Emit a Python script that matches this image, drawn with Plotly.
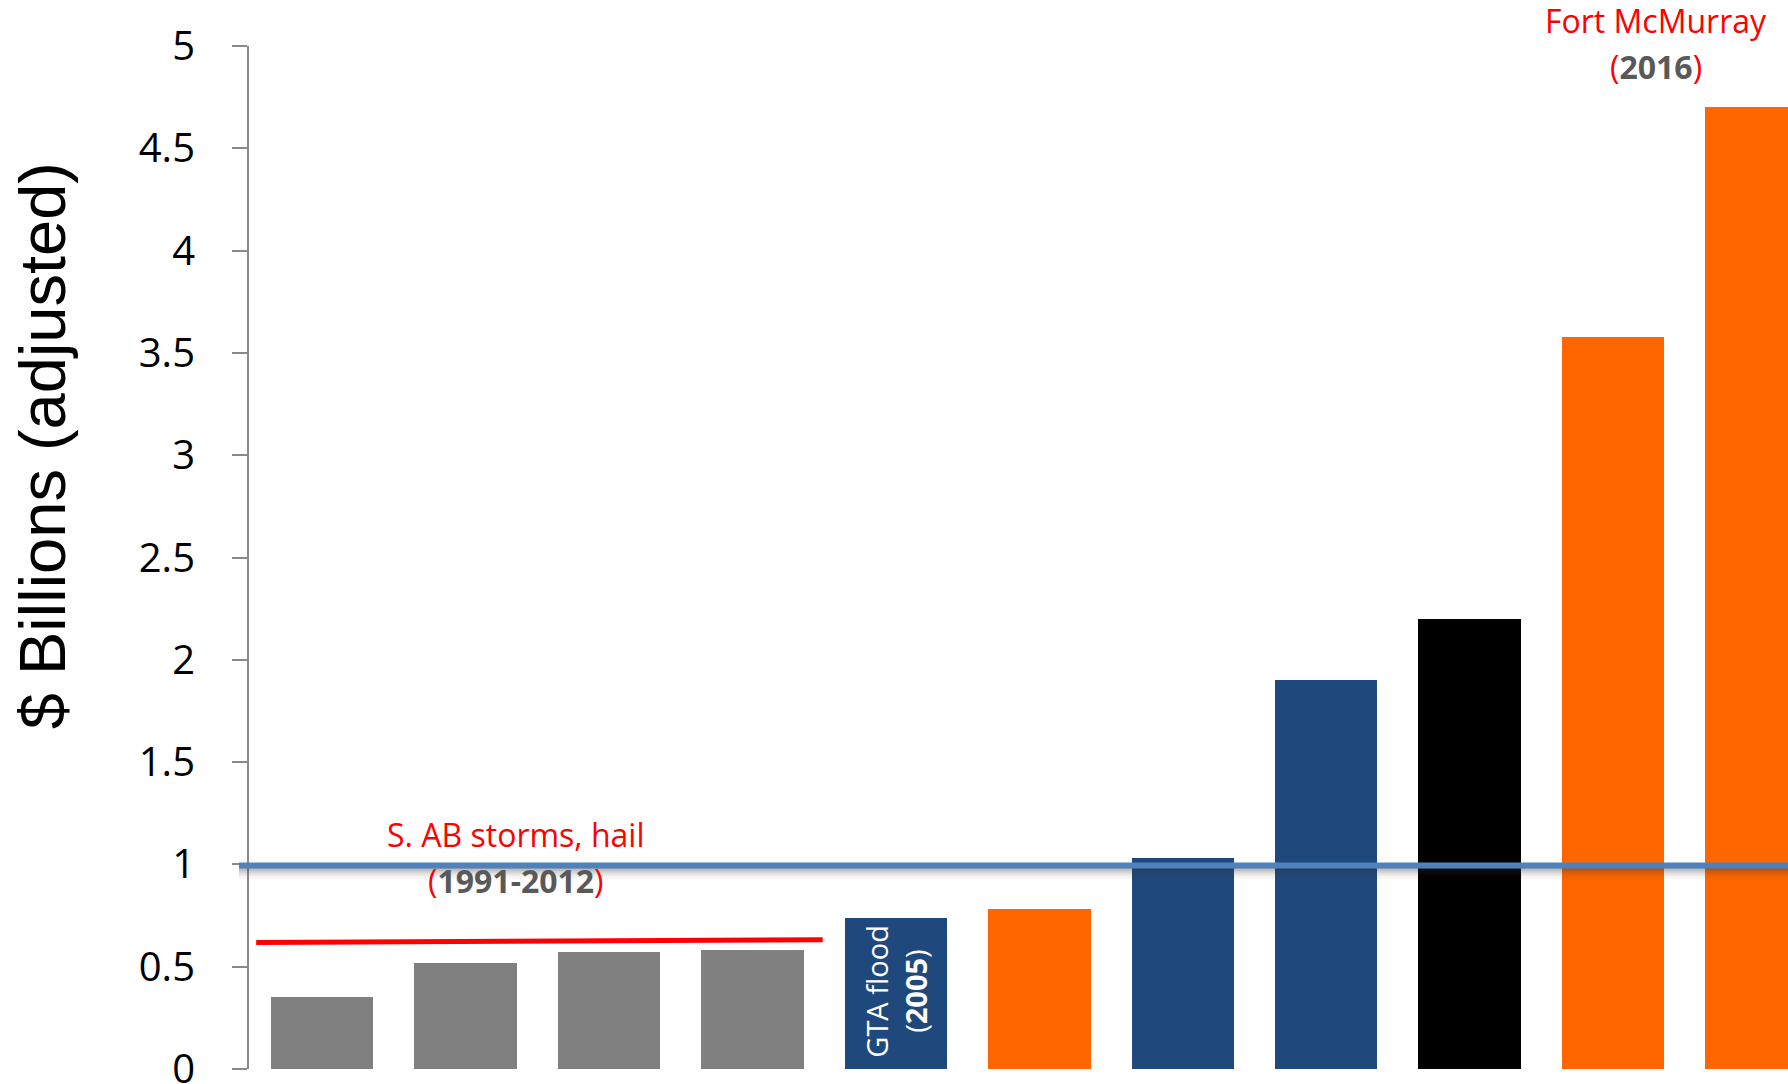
import plotly.graph_objects as go

# Insured catastrophe losses, $ billions (inflation adjusted), in chart order
positions = list(range(11))
losses = [0.35, 0.52, 0.57, 0.58, 0.74, 0.78, 1.03, 1.90, 2.20, 3.58, 4.70]
bar_colors = ["#808080", "#808080", "#808080", "#808080",
              "#1F497D", "#FF6600", "#1F497D", "#1F497D",
              "#000000", "#FF6600", "#FF6600"]

# Southern Alberta storms / hail trend segment (1991-2012)
hail_x = [-0.46, 3.49]
hail_y = [0.618, 0.632]

# $1 billion reference level
threshold = 1.0

y_tick_vals = [0, 0.5, 1, 1.5, 2, 2.5, 3, 3.5, 4, 4.5, 5]
y_tick_text = ["0", "0.5", "1", "1.5", "2", "2.5", "3", "3.5", "4", "4.5", "5"]

LABEL_FONT = "Open Sans, Noto Sans, sans-serif"
RED = "#FF0000"
GREY_TXT = "#595959"
PX = 1.0 / 204.6  # one pixel in y data units

fig = go.Figure()

fig.add_trace(go.Bar(
    x=positions, y=losses, width=0.714,
    marker=dict(color=bar_colors, line=dict(width=0)),
    hoverinfo="y", showlegend=False,
))

fig.add_trace(go.Scatter(
    x=hail_x, y=hail_y, mode="lines",
    line=dict(color=RED, width=5),
    hoverinfo="skip", showlegend=False,
))

shapes = []
# soft drop shadow under the reference line
for off, alpha in [(4, 0.40), (6, 0.30), (8, 0.20), (10, 0.12), (12, 0.06), (14, 0.03)]:
    shapes.append(dict(
        type="line", xref="paper", yref="y", layer="above",
        x0=-0.0065, x1=1, y0=threshold - off * PX, y1=threshold - off * PX,
        line=dict(color=f"rgba(50,50,50,{alpha})", width=2),
    ))
shapes.append(dict(
    type="line", xref="paper", yref="y", layer="above",
    x0=-0.0065, x1=1, y0=threshold - 1 * PX, y1=threshold - 1 * PX,
    line=dict(color="#4F81BD", width=6),
))

annotations = [
    # y-axis title
    dict(text="$ Billions (adjusted)", xref="paper", yref="paper",
         x=-0.1337, y=0.609, xanchor="center", yanchor="middle",
         textangle=-90, showarrow=False,
         font=dict(family="Liberation Sans, Arial, sans-serif", size=65, color="#000000")),
    # hail label
    dict(text="S. AB storms, hail", xref="x", yref="y",
         x=1.349, y=1.148, xanchor="center", yanchor="middle", showarrow=False,
         font=dict(family=LABEL_FONT, size=32, color=RED)),
    dict(text=f"<span style='color:{RED}'>(</span><b>1991-2012</b><span style='color:{RED}'>)</span>",
         xref="x", yref="y", x=1.349, y=0.923, xanchor="center", yanchor="middle",
         showarrow=False, font=dict(family=LABEL_FONT, size=32, color=GREY_TXT)),
    # Fort McMurray label
    dict(text="Fort McMurray", xref="x", yref="paper",
         x=9.298, y=1.0246, xanchor="center", yanchor="middle", showarrow=False,
         font=dict(family=LABEL_FONT, size=32, color=RED)),
    dict(text=f"<span style='color:{RED}'>(</span><b>2016</b><span style='color:{RED}'>)</span>",
         xref="x", yref="paper", x=9.298, y=0.980, xanchor="center", yanchor="middle",
         showarrow=False, font=dict(family=LABEL_FONT, size=32, color=GREY_TXT)),
    # GTA flood label inside its bar
    dict(text="GTA flood", xref="x", yref="y", x=3.859, y=0.381,
         xanchor="center", yanchor="middle", textangle=-90, showarrow=False,
         font=dict(family=LABEL_FONT, size=29, color="#FFFFFF")),
    dict(text="(<b>2005</b>)", xref="x", yref="y", x=4.132, y=0.381,
         xanchor="center", yanchor="middle", textangle=-90, showarrow=False,
         font=dict(family=LABEL_FONT, size=29, color="#FFFFFF")),
]

fig.update_layout(
    width=1788, height=1084,
    margin=dict(l=249, r=0, t=46, b=15, pad=0, autoexpand=False),
    paper_bgcolor="#FFFFFF", plot_bgcolor="#FFFFFF",
    shapes=shapes, annotations=annotations,
    bargap=0,
    xaxis=dict(range=[-0.51, 10.22], showticklabels=False, showline=False,
               showgrid=False, zeroline=False, ticks="", automargin=False),
    yaxis=dict(range=[0, 5], tickvals=y_tick_vals, ticktext=y_tick_text,
               showline=True, linecolor="#898989", linewidth=2,
               ticks="outside", ticklen=15, tickwidth=2, tickcolor="#898989",
               ticklabelstandoff=29, ticklabeloverflow="allow", automargin=False,
               showgrid=False, zeroline=False,
               tickfont=dict(family=LABEL_FONT, size=40, color="#000000")),
)

fig.write_html("out.html")
